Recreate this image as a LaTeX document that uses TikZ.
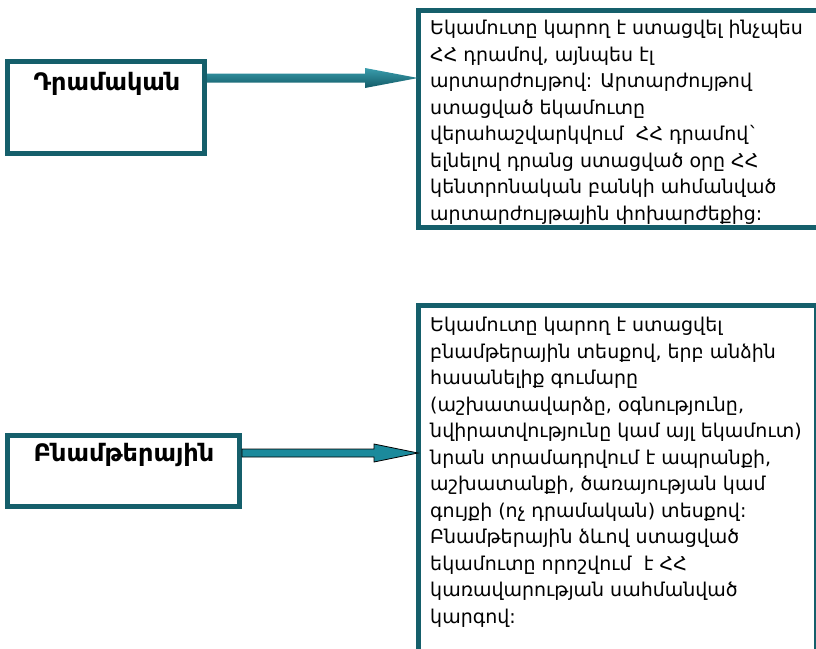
\documentclass[tikz,border=0pt]{standalone}
\usepackage{fontspec}
\setmainfont{DejaVu Sans}
\newfontfamily\armfont{DejaVu Sans}
\usetikzlibrary{calc}
\definecolor{boxteal}{HTML}{155F6B}
\definecolor{arrowteal}{HTML}{1B8A9C}
\definecolor{arrowlight}{HTML}{3A9DAD}
\definecolor{arrowdark}{HTML}{125A66}
\begin{document}
\begin{tikzpicture}[x=1pt,y=-1pt,
  framebox/.style={draw=boxteal, line width=5pt, fill=white, minimum width=#1, inner sep=0, outer sep=0, anchor=north west},
  labeltext/.style={font=\armfont\bfseries\fontsize{24}{26}\selectfont, inner sep=0},
  bodytext/.style={font=\armfont\fontsize{19}{26.5}\selectfont, align=left, anchor=north west, inner sep=0},
  shadedarrow/.style={top color=arrowlight, bottom color=arrowdark, draw=none},
  flatarrow/.style={fill=arrowteal, draw=black, line width=0.8pt}]
\useasboundingbox (0,0) rectangle (816,648);

% boxes
\node[framebox=197pt, minimum height=92pt] (L1) at (7.5,61.5) {};
\node[framebox=402pt, minimum height=216.5pt] (R1) at (418,10.5) {};
\node[framebox=232pt, minimum height=71pt] (L2) at (7.5,435.5) {};
\node[framebox=398.5pt, minimum height=364.5pt] (R2) at (418,305.5) {};

% labels
\node[labeltext] (lab1) at (107,84) {Դրամական};
\node[labeltext] (lab2) at (124,455) {Բնամթերային};

\node[bodytext] (t1) at (430,20) {Եկամուտը կարող է ստացվել ինչպես\\
ՀՀ դրամով, այնպես էլ\\
արտարժույթով: Արտարժույթով\\
ստացված եկամուտը\\
վերահաշվարկվում \ ՀՀ դրամով`\\
ելնելով դրանց ստացված օրը ՀՀ\\
կենտրոնական բանկի ահմանված\\
արտարժույթային փոխարժեքից:};

\node[bodytext] (t2) at (430,317) {Եկամուտը կարող է ստացվել\\
բնամթերային տեսքով, երբ անձին\\
հասանելիք գումարը\\
(աշխատավարձը, օգնությունը,\\
նվիրատվությունը կամ այլ եկամուտ)\\
նրան տրամադրվում է ապրանքի,\\
աշխատանքի, ծառայության կամ\\
գույքի (ոչ դրամական) տեսքով:\\
Բնամթերային ձևով ստացված\\
եկամուտը որոշվում \ է ՀՀ\\
կառավարության սահմանված\\
կարգով:};

% arrow anchors
\coordinate (a1) at (0,78);
\coordinate (a2) at (0,453);

\path[shadedarrow] let \p1=(L1.east), \p2=(R1.west), \p3=(a1) in
  (\x1+2.5,\y3-4.5) -- (\x2-53,\y3-4.5) -- (\x2-53,\y3-10) -- (\x2,\y3) -- (\x2-53,\y3+10) -- (\x2-53,\y3+4.5) -- (\x1+2.5,\y3+4.5) -- cycle;

\path[flatarrow] let \p1=(L2.east), \p2=(R2.west), \p3=(a2) in
  (\x1+2.5,\y3-4) -- (\x2-44,\y3-4) -- (\x2-44,\y3-9) -- (\x2,\y3) -- (\x2-44,\y3+9) -- (\x2-44,\y3+4) -- (\x1+2.5,\y3+4) -- cycle;
\end{tikzpicture}
\end{document}
